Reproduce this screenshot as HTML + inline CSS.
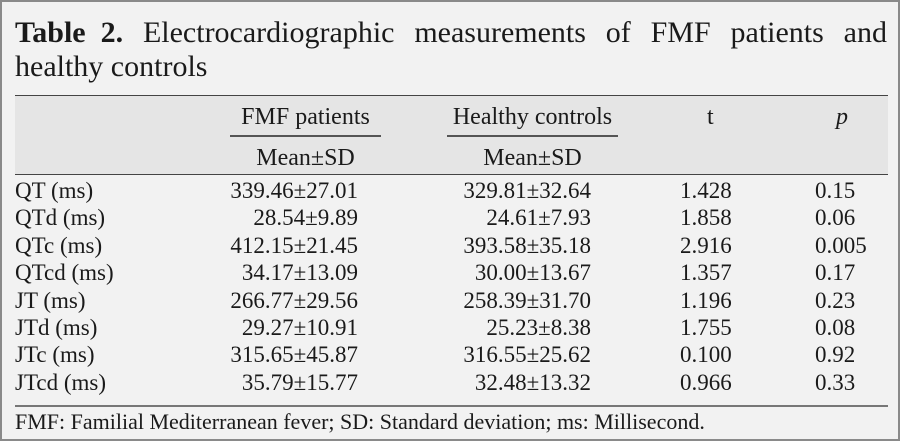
<!DOCTYPE html><html><head><style>
body{margin:0;width:900px;height:441px;overflow:hidden;background:#f2f2f2;font-family:"Liberation Serif",serif;color:#1a1a1a}
.f{position:absolute;left:0;top:0;width:896px;height:437px;border:2px solid #8a8a8a;background:#f2f2f2}
.a{position:absolute;white-space:nowrap}
.t{font-size:30px;line-height:34px}
.r{font-size:23px;line-height:26px}
.h{font-size:24px}
.band{position:absolute;left:13px;top:93px;width:873px;height:78px;background:#e5e5e5;border-top:1.5px solid #444;border-bottom:1.5px solid #444}
.ln{position:absolute;height:1.5px;background:#555}
</style></head><body><div class="f">
<div class="a t" style="left:13px;top:14px;width:872px;display:flex;justify-content:space-between"><span><b>Table&nbsp; 2.</b></span><span>Electrocardiographic</span><span>measurements</span><span>of</span><span>FMF</span><span>patients</span><span>and</span></div>
<div class="a t" style="left:13px;top:48px">healthy controls</div>
<div class="band"></div>
<div class="ln" style="left:228px;top:133px;width:151px"></div>
<div class="ln" style="left:445px;top:133px;width:171px"></div>
<div class="a r h" style="left:208px;width:191px;text-align:center;top:102px">FMF patients</div>
<div class="a r h" style="left:420px;width:221px;text-align:center;top:102px">Healthy controls</div>
<div class="a r h" style="left:228px;width:151px;text-align:center;top:143px">Mean±SD</div>
<div class="a r h" style="left:445px;width:171px;text-align:center;top:143px">Mean±SD</div>
<div class="a r h" style="left:705px;top:102px">t</div>
<div class="a r h" style="left:834px;top:102px;font-style:italic">p</div>
<div id="rows"></div>
<div class="ln" style="left:13px;top:403px;width:873px;background:#777"></div>
<div class="a" style="left:13px;top:407px;font-size:22px">FMF: Familial Mediterranean fever; SD: Standard deviation; ms: Millisecond.</div>
</div>
<script>
var d=[["QT (ms)","339.46±27.01","329.81±32.64","1.428","0.15"],["QTd (ms)","28.54±9.89","24.61±7.93","1.858","0.06"],["QTc (ms)","412.15±21.45","393.58±35.18","2.916","0.005"],["QTcd (ms)","34.17±13.09","30.00±13.67","1.357","0.17"],["JT (ms)","266.77±29.56","258.39±31.70","1.196","0.23"],["JTd (ms)","29.27±10.91","25.23±8.38","1.755","0.08"],["JTc (ms)","315.65±45.87","316.55±25.62","0.100","0.92"],["JTcd (ms)","35.79±15.77","32.48±13.32","0.966","0.33"]];
var h="";d.forEach(function(r,i){var y=176+i*27.4;
h+='<div class="a r" style="left:13px;top:'+y+'px">'+r[0]+'</div>';
h+='<div class="a r" style="right:540px;top:'+y+'px">'+r[1]+'</div>';
h+='<div class="a r" style="right:307px;top:'+y+'px">'+r[2]+'</div>';
h+='<div class="a r" style="left:678px;top:'+y+'px">'+r[3]+'</div>';
h+='<div class="a r" style="left:813px;top:'+y+'px">'+r[4]+'</div>';});
document.getElementById("rows").outerHTML=h;
</script>
</body></html>
